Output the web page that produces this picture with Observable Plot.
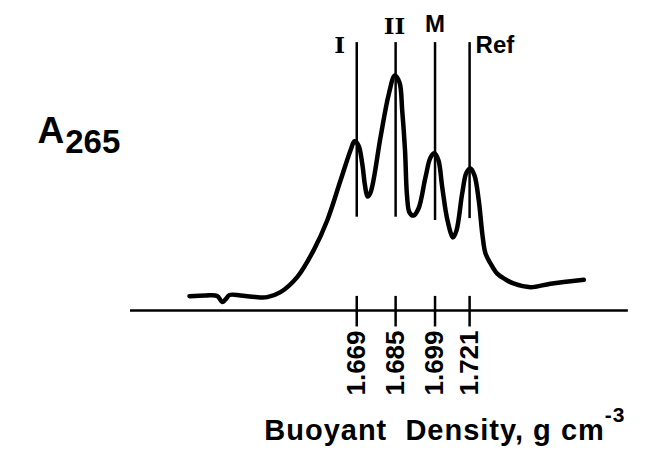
<!DOCTYPE html>
<html>
<head>
<meta charset="utf-8">
<script src="https://cdn.jsdelivr.net/npm/d3@7"></script>
<script src="https://cdn.jsdelivr.net/npm/@observablehq/plot@0.6"></script>
<style>
  html, body { margin: 0; padding: 0; background: #fff; }
  #chart { width: 656px; height: 455px; }
</style>
</head>
<body>
<div id="chart"></div>
<script>
// Position along the gradient (arbitrary units) and absorbance at 265 nm (relative)
const curvePos = [14.63, 17.59, 19.76, 20.69, 21.30, 22.04, 24.07, 26.85, 29.02, 31.48, 34.57, 37.59, 40.13, 42.59, 44.44, 45.19, 45.93, 46.61, 47.13, 47.59, 48.15, 50.0, 51.48, 52.65, 53.52, 54.02, 54.54, 54.91, 55.37, 56.11, 57.04, 58.33, 59.26, 60.0, 60.74, 61.43, 62.41, 63.43, 64.07, 65.13, 65.93, 66.67, 67.41, 68.20, 68.89, 69.44, 70.37, 71.61, 73.15, 74.63, 77.78, 81.48, 87.65];
const curveA265 = [0.061, 0.064, 0.062, 0.036, 0.047, 0.066, 0.064, 0.057, 0.057, 0.078, 0.142, 0.255, 0.383, 0.553, 0.681, 0.720, 0.702, 0.626, 0.532, 0.485, 0.502, 0.737, 0.915, 1.0, 0.970, 0.851, 0.681, 0.489, 0.417, 0.404, 0.434, 0.567, 0.651, 0.669, 0.638, 0.525, 0.383, 0.311, 0.340, 0.498, 0.587, 0.604, 0.574, 0.468, 0.319, 0.243, 0.200, 0.157, 0.132, 0.115, 0.099, 0.114, 0.131];

// Bands
const bandNames = ["I", "II", "M", "Ref"];
const bandPos = [45.6, 52.8, 60.1, 66.5];
const bandLineBottom = [0.397, 0.397, 0.383, 0.391];
const bandLineTop = [1.14, 1.14, 1.14, 1.14];

// Density tick labels
const tickLabels = ["1.669", "1.685", "1.699", "1.721"];

const xTitle = "Buoyant  Density, g cm";
const xTitleSup = "-3";
const yTitle = "A";
const yTitleSub = "265";

const curve = curvePos.map((p, i) => ({p, a: curveA265[i]}));
const bands = bandNames.map((name, i) => ({name, p: bandPos[i], y1: bandLineBottom[i], y2: bandLineTop[i], label: tickLabels[i]}));

const sans = "'Liberation Sans', Arial, sans-serif";
const serif = "'DejaVu Serif', 'Liberation Serif', serif";

const svg = Plot.plot({
  width: 656,
  height: 455,
  margin: 0,
  style: {background: "#fff", color: "#000", overflow: "visible"},
  x: {domain: [0, 100], range: [110, 650], axis: null},
  y: {domain: [0, 1], range: [310, 75], axis: null},
  marks: [
    // baseline axis
    Plot.ruleY([0], {x1: 3.7, x2: 95.9, stroke: "#000", strokeWidth: 2.5}),
    // ticks
    Plot.ruleX(bands, {x: "p", y1: -0.07, y2: 0.06, stroke: "#000", strokeWidth: 2.5}),
    // band marker lines
    Plot.ruleX(bands, {x: "p", y1: "y1", y2: "y2", stroke: "#000", strokeWidth: 2.5}),
    // profile
    Plot.line(curve, {x: "p", y: "a", curve: "catmull-rom", stroke: "#000", strokeWidth: 4.5, strokeLinejoin: "round", strokeLinecap: "round"}),
    // tick labels
    Plot.text(bands, {x: "p", y: -0.085, text: "label", rotate: -90, textAnchor: "end", lineAnchor: "middle", fontSize: 26, fontWeight: "bold", fontFamily: sans, fill: "#000"}),
    // band labels
    Plot.text(bands.filter(d => d.name === "I"), {x: "p", y: 1.128, text: "name", dx: -17, lineAnchor: "middle", fontSize: 23, fontWeight: "bold", fontFamily: serif, fill: "#000"}),
    Plot.text(bands.filter(d => d.name === "II"), {x: "p", y: 1.21, text: "name", dx: -1, lineAnchor: "middle", fontSize: 23, fontWeight: "bold", fontFamily: serif, letterSpacing: -2, fill: "#000"}),
    Plot.text(bands.filter(d => d.name === "M"), {x: "p", y: 1.218, text: "name", lineAnchor: "middle", fontSize: 24, fontWeight: "bold", fontFamily: sans, fill: "#000"}),
    Plot.text(bands.filter(d => d.name === "Ref"), {x: "p", y: 1.128, text: "name", dx: 6, textAnchor: "start", lineAnchor: "middle", fontSize: 24, fontWeight: "bold", fontFamily: sans, fill: "#000"}),
    // axis titles
    Plot.text([xTitle], {frameAnchor: "bottom-right", text: d => d, textAnchor: "end", lineAnchor: "bottom", dx: -31, dy: -16, fontSize: 29, fontWeight: "bold", fontFamily: sans, fill: "#000"}),
    Plot.text([yTitle], {frameAnchor: "top-left", text: d => d, textAnchor: "start", lineAnchor: "bottom", dx: 37, dy: 142, fontSize: 37, fontWeight: "bold", fontFamily: sans, fill: "#000"})
  ]
});

// superscript / subscript parts
svg.querySelectorAll("text").forEach(t => {
  if (t.textContent === xTitle) {
    t.setAttribute("letter-spacing", "1");
    t.setAttribute("xml:space", "preserve");
    t.style.whiteSpace = "pre";
    const s = document.createElementNS("http://www.w3.org/2000/svg", "tspan");
    s.setAttribute("dy", "-18");
    s.setAttribute("font-size", "21");
    s.textContent = xTitleSup;
    t.appendChild(s);
  } else if (t.textContent === yTitle) {
    const s = document.createElementNS("http://www.w3.org/2000/svg", "tspan");
    s.setAttribute("dy", "10");
    s.setAttribute("dx", "1");
    s.setAttribute("font-size", "33");
    s.textContent = yTitleSub;
    t.appendChild(s);
  }
});

document.getElementById("chart").appendChild(svg);
</script>
</body>
</html>
